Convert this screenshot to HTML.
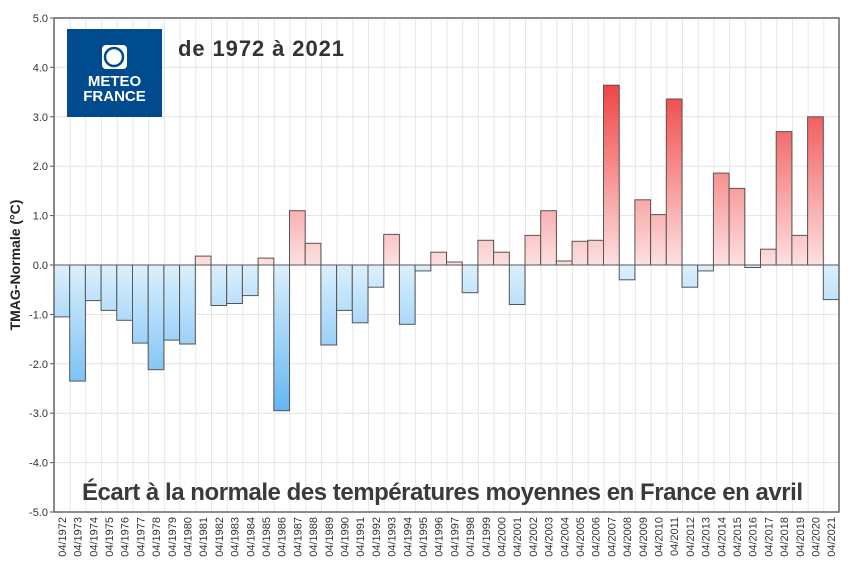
<!DOCTYPE html>
<html><head><meta charset="utf-8"><style>body{margin:0;background:#fff}svg{display:block}</style></head><body>
<svg width="852" height="571" xmlns="http://www.w3.org/2000/svg" font-family="Liberation Sans, sans-serif">
<defs>
<linearGradient id="pos" gradientUnits="userSpaceOnUse" x1="0" y1="85" x2="0" y2="265"><stop offset="0" stop-color="#f04444"/><stop offset="1" stop-color="#fde0e0"/></linearGradient>
<linearGradient id="neg" gradientUnits="userSpaceOnUse" x1="0" y1="265" x2="0" y2="412"><stop offset="0" stop-color="#dcf0fd"/><stop offset="1" stop-color="#62b6f3"/></linearGradient>
<pattern id="vg" patternUnits="userSpaceOnUse" x="54" y="0" width="15.7" height="600"><line x1="0.5" y1="0" x2="0.5" y2="600" stroke="#e6e6e6" stroke-width="1"/></pattern>
</defs>
<rect x="54" y="18" width="785" height="494" fill="url(#vg)"/>
<g stroke="#e3e3e3">
<line x1="54" y1="18" x2="839" y2="18"/><line x1="54" y1="67.4" x2="839" y2="67.4"/><line x1="54" y1="116.8" x2="839" y2="116.8"/><line x1="54" y1="166.2" x2="839" y2="166.2"/><line x1="54" y1="215.6" x2="839" y2="215.6"/><line x1="54" y1="314.4" x2="839" y2="314.4"/><line x1="54" y1="363.8" x2="839" y2="363.8"/><line x1="54" y1="413.2" x2="839" y2="413.2"/><line x1="54" y1="462.6" x2="839" y2="462.6"/>
</g>
<g stroke="#555">
<line x1="50" y1="18" x2="54" y2="18"/><line x1="50" y1="67.4" x2="54" y2="67.4"/><line x1="50" y1="116.8" x2="54" y2="116.8"/><line x1="50" y1="166.2" x2="54" y2="166.2"/><line x1="50" y1="215.6" x2="54" y2="215.6"/><line x1="50" y1="265" x2="54" y2="265"/><line x1="50" y1="314.4" x2="54" y2="314.4"/><line x1="50" y1="363.8" x2="54" y2="363.8"/><line x1="50" y1="413.2" x2="54" y2="413.2"/><line x1="50" y1="462.6" x2="54" y2="462.6"/><line x1="50" y1="512" x2="54" y2="512"/>
</g>
<g font-size="11" fill="#333" text-anchor="end">
<text x="48" y="22">5.0</text><text x="48" y="71.4">4.0</text><text x="48" y="120.8">3.0</text><text x="48" y="170.2">2.0</text><text x="48" y="219.6">1.0</text><text x="48" y="269">0.0</text><text x="48" y="318.4">-1.0</text><text x="48" y="367.8">-2.0</text><text x="48" y="417.2">-3.0</text><text x="48" y="466.6">-4.0</text><text x="48" y="516">-5.0</text>
</g>
<g stroke="#555" stroke-width="1">
<rect x="54.0" y="265" width="15.7" height="51.9" fill="url(#neg)"/>
<rect x="69.7" y="265" width="15.7" height="116.1" fill="url(#neg)"/>
<rect x="85.4" y="265" width="15.7" height="35.6" fill="url(#neg)"/>
<rect x="101.1" y="265" width="15.7" height="45.4" fill="url(#neg)"/>
<rect x="116.8" y="265" width="15.7" height="55.3" fill="url(#neg)"/>
<rect x="132.5" y="265" width="15.7" height="78.1" fill="url(#neg)"/>
<rect x="148.2" y="265" width="15.7" height="104.7" fill="url(#neg)"/>
<rect x="163.9" y="265" width="15.7" height="75.1" fill="url(#neg)"/>
<rect x="179.6" y="265" width="15.7" height="79.0" fill="url(#neg)"/>
<rect x="195.3" y="256.1" width="15.7" height="8.9" fill="url(#pos)"/>
<rect x="211.0" y="265" width="15.7" height="40.5" fill="url(#neg)"/>
<rect x="226.7" y="265" width="15.7" height="38.5" fill="url(#neg)"/>
<rect x="242.4" y="265" width="15.7" height="30.6" fill="url(#neg)"/>
<rect x="258.1" y="258.1" width="15.7" height="6.9" fill="url(#pos)"/>
<rect x="273.8" y="265" width="15.7" height="145.7" fill="url(#neg)"/>
<rect x="289.5" y="210.7" width="15.7" height="54.3" fill="url(#pos)"/>
<rect x="305.2" y="243.3" width="15.7" height="21.7" fill="url(#pos)"/>
<rect x="320.9" y="265" width="15.7" height="80.0" fill="url(#neg)"/>
<rect x="336.6" y="265" width="15.7" height="45.4" fill="url(#neg)"/>
<rect x="352.3" y="265" width="15.7" height="57.8" fill="url(#neg)"/>
<rect x="368.0" y="265" width="15.7" height="22.2" fill="url(#neg)"/>
<rect x="383.7" y="234.4" width="15.7" height="30.6" fill="url(#pos)"/>
<rect x="399.4" y="265" width="15.7" height="59.3" fill="url(#neg)"/>
<rect x="415.1" y="265" width="15.7" height="5.9" fill="url(#neg)"/>
<rect x="430.8" y="252.2" width="15.7" height="12.8" fill="url(#pos)"/>
<rect x="446.5" y="262" width="15.7" height="3.0" fill="url(#pos)"/>
<rect x="462.2" y="265" width="15.7" height="27.7" fill="url(#neg)"/>
<rect x="477.9" y="240.3" width="15.7" height="24.7" fill="url(#pos)"/>
<rect x="493.6" y="252.2" width="15.7" height="12.8" fill="url(#pos)"/>
<rect x="509.3" y="265" width="15.7" height="39.5" fill="url(#neg)"/>
<rect x="525.0" y="235.4" width="15.7" height="29.6" fill="url(#pos)"/>
<rect x="540.7" y="210.7" width="15.7" height="54.3" fill="url(#pos)"/>
<rect x="556.4" y="261" width="15.7" height="4.0" fill="url(#pos)"/>
<rect x="572.1" y="241.3" width="15.7" height="23.7" fill="url(#pos)"/>
<rect x="587.8" y="240.3" width="15.7" height="24.7" fill="url(#pos)"/>
<rect x="603.5" y="85.2" width="15.7" height="179.8" fill="url(#pos)"/>
<rect x="619.2" y="265" width="15.7" height="14.8" fill="url(#neg)"/>
<rect x="634.9" y="199.8" width="15.7" height="65.2" fill="url(#pos)"/>
<rect x="650.6" y="214.6" width="15.7" height="50.4" fill="url(#pos)"/>
<rect x="666.3" y="99" width="15.7" height="166" fill="url(#pos)"/>
<rect x="682.0" y="265" width="15.7" height="22.2" fill="url(#neg)"/>
<rect x="697.7" y="265" width="15.7" height="5.9" fill="url(#neg)"/>
<rect x="713.4" y="173.1" width="15.7" height="91.9" fill="url(#pos)"/>
<rect x="729.1" y="188.4" width="15.7" height="76.6" fill="url(#pos)"/>
<rect x="744.8" y="265" width="15.7" height="2.5" fill="url(#neg)"/>
<rect x="760.5" y="249.2" width="15.7" height="15.8" fill="url(#pos)"/>
<rect x="776.2" y="131.6" width="15.7" height="133.4" fill="url(#pos)"/>
<rect x="791.9" y="235.4" width="15.7" height="29.6" fill="url(#pos)"/>
<rect x="807.6" y="116.8" width="15.7" height="148.2" fill="url(#pos)"/>
<rect x="823.3" y="265" width="15.7" height="34.6" fill="url(#neg)"/>
</g>
<line x1="54" y1="265" x2="839" y2="265" stroke="#555"/>
<rect x="54" y="18" width="785" height="494" fill="none" stroke="#666" stroke-width="1.5"/>
<g font-size="11" fill="#333" text-anchor="end">
<text transform="translate(65.9,517) rotate(-90)">04/1972</text>
<text transform="translate(81.6,517) rotate(-90)">04/1973</text>
<text transform="translate(97.3,517) rotate(-90)">04/1974</text>
<text transform="translate(113.0,517) rotate(-90)">04/1975</text>
<text transform="translate(128.7,517) rotate(-90)">04/1976</text>
<text transform="translate(144.4,517) rotate(-90)">04/1977</text>
<text transform="translate(160.1,517) rotate(-90)">04/1978</text>
<text transform="translate(175.8,517) rotate(-90)">04/1979</text>
<text transform="translate(191.5,517) rotate(-90)">04/1980</text>
<text transform="translate(207.2,517) rotate(-90)">04/1981</text>
<text transform="translate(222.9,517) rotate(-90)">04/1982</text>
<text transform="translate(238.6,517) rotate(-90)">04/1983</text>
<text transform="translate(254.3,517) rotate(-90)">04/1984</text>
<text transform="translate(270.0,517) rotate(-90)">04/1985</text>
<text transform="translate(285.7,517) rotate(-90)">04/1986</text>
<text transform="translate(301.4,517) rotate(-90)">04/1987</text>
<text transform="translate(317.1,517) rotate(-90)">04/1988</text>
<text transform="translate(332.8,517) rotate(-90)">04/1989</text>
<text transform="translate(348.5,517) rotate(-90)">04/1990</text>
<text transform="translate(364.2,517) rotate(-90)">04/1991</text>
<text transform="translate(379.9,517) rotate(-90)">04/1992</text>
<text transform="translate(395.6,517) rotate(-90)">04/1993</text>
<text transform="translate(411.3,517) rotate(-90)">04/1994</text>
<text transform="translate(427.0,517) rotate(-90)">04/1995</text>
<text transform="translate(442.7,517) rotate(-90)">04/1996</text>
<text transform="translate(458.4,517) rotate(-90)">04/1997</text>
<text transform="translate(474.1,517) rotate(-90)">04/1998</text>
<text transform="translate(489.8,517) rotate(-90)">04/1999</text>
<text transform="translate(505.5,517) rotate(-90)">04/2000</text>
<text transform="translate(521.2,517) rotate(-90)">04/2001</text>
<text transform="translate(536.9,517) rotate(-90)">04/2002</text>
<text transform="translate(552.6,517) rotate(-90)">04/2003</text>
<text transform="translate(568.3,517) rotate(-90)">04/2004</text>
<text transform="translate(584.0,517) rotate(-90)">04/2005</text>
<text transform="translate(599.7,517) rotate(-90)">04/2006</text>
<text transform="translate(615.4,517) rotate(-90)">04/2007</text>
<text transform="translate(631.1,517) rotate(-90)">04/2008</text>
<text transform="translate(646.8,517) rotate(-90)">04/2009</text>
<text transform="translate(662.5,517) rotate(-90)">04/2010</text>
<text transform="translate(678.2,517) rotate(-90)">04/2011</text>
<text transform="translate(693.9,517) rotate(-90)">04/2012</text>
<text transform="translate(709.6,517) rotate(-90)">04/2013</text>
<text transform="translate(725.3,517) rotate(-90)">04/2014</text>
<text transform="translate(741.0,517) rotate(-90)">04/2015</text>
<text transform="translate(756.7,517) rotate(-90)">04/2016</text>
<text transform="translate(772.4,517) rotate(-90)">04/2017</text>
<text transform="translate(788.1,517) rotate(-90)">04/2018</text>
<text transform="translate(803.8,517) rotate(-90)">04/2019</text>
<text transform="translate(819.5,517) rotate(-90)">04/2020</text>
<text transform="translate(835.2,517) rotate(-90)">04/2021</text>
</g>
<rect x="67" y="29" width="95" height="88" fill="#004b8d"/>
<rect x="102" y="45" width="25" height="24" rx="4" fill="#fff"/>
<path d="M114 48a9 9 0 1 0 0 18a9 9 0 1 0 0-18" fill="none" stroke="#004b8d" stroke-width="2.5"/>
<text x="114.5" y="86" font-size="15" font-weight="bold" fill="#fff" text-anchor="middle">METEO</text>
<text x="114.5" y="101" font-size="15" font-weight="bold" fill="#fff" text-anchor="middle">FRANCE</text>
<text x="178" y="56" font-size="22" font-weight="bold" fill="#333" textLength="166">de 1972 à 2021</text>
<text x="82" y="500" font-size="24" font-weight="bold" fill="#3a3a3a" textLength="721">Écart à la normale des températures moyennes en France en avril</text>
<text transform="translate(20,265) rotate(-90)" font-size="14" font-weight="bold" fill="#222" text-anchor="middle">TMAG-Normale (°C)</text>
</svg>
</body></html>
